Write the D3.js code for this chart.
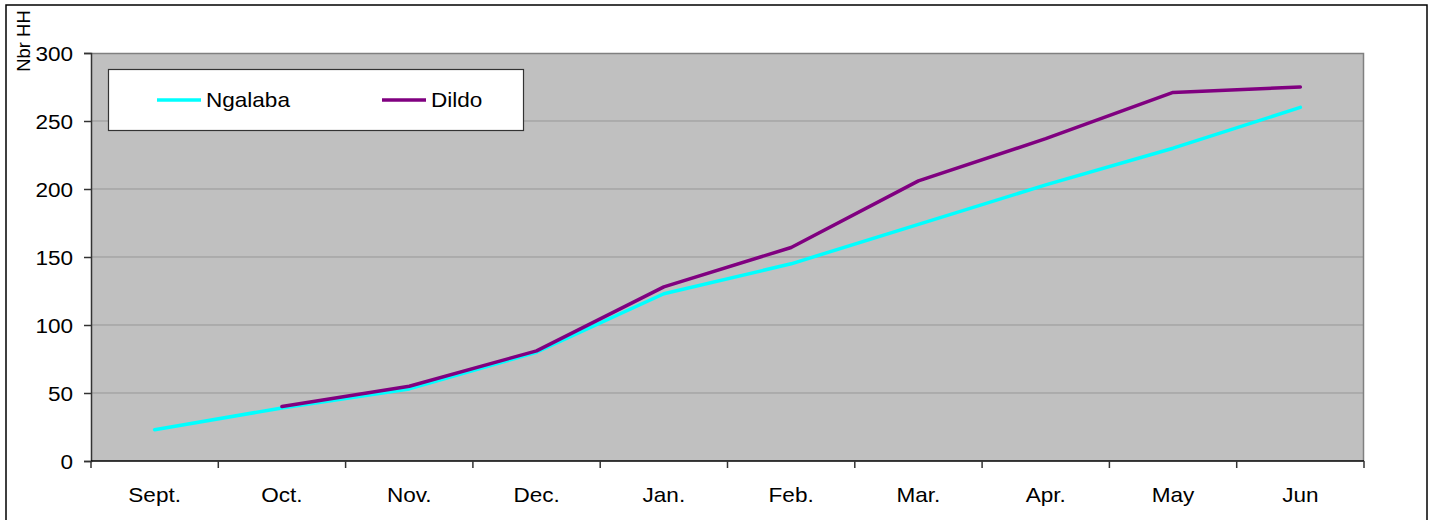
<!DOCTYPE html>
<html>
<head>
<meta charset="utf-8">
<script src="https://cdn.jsdelivr.net/npm/d3@7"></script>
<style>
  html, body { margin: 0; padding: 0; background: #fff; }
  svg { display: block; }
  text { font-family: "Liberation Sans", Arial, sans-serif; fill: #000; }
</style>
</head>
<body>
<svg id="chart" width="1432" height="520"></svg>
<script>
// Monthly number of households per site
const months = ["Sept.", "Oct.", "Nov.", "Dec.", "Jan.", "Feb.", "Mar.", "Apr.", "May", "Jun"];
const ngalaba = [23, 39, 53, 80, 123, 145, 174, 203, 230, 260];
const dildo = [null, 40, 55, 81, 128, 157, 206, 237, 271, 275];
const yTicks = [0, 50, 100, 150, 200, 250, 300];
const seriesNames = ["Ngalaba", "Dildo"];
const seriesColors = ["#00FFFF", "#800080"];

const svg = d3.select("#chart");
const plot = { left: 91, right: 1364, top: 53, bottom: 461 };
const sx = 1.1;       // horizontal text stretch
const fs = "20.5px";  // label font size

// outer frame
svg.append("rect")
  .attr("x", 6).attr("y", 5).attr("width", 1421).attr("height", 530)
  .attr("fill", "#fff").attr("stroke", "#000").attr("stroke-width", 1.5);

const x = d3.scaleBand().domain(months).range([plot.left, plot.right]);
const y = d3.scaleLinear().domain([0, 300]).range([plot.bottom, plot.top]);

// plot background
svg.append("rect")
  .attr("x", plot.left).attr("y", plot.top)
  .attr("width", plot.right - plot.left).attr("height", plot.bottom - plot.top)
  .attr("fill", "#C0C0C0");

// horizontal gridlines
svg.append("g").selectAll("line")
  .data(yTicks.filter(d => d > 0 && d < 300))
  .join("line")
  .attr("x1", plot.left).attr("x2", plot.right)
  .attr("y1", d => y(d)).attr("y2", d => y(d))
  .attr("stroke", "#979797").attr("stroke-width", 1);

// top and right plot border
svg.append("path")
  .attr("d", `M${plot.left},${plot.top + 0.5}H${plot.right - 0.5}V${plot.bottom}`)
  .attr("fill", "none").attr("stroke", "#808080").attr("stroke-width", 1.5);

// y axis
const yAxis = svg.append("g")
  .attr("transform", `translate(${plot.left},0)`)
  .call(d3.axisLeft(y).tickValues(yTicks).tickSize(7).tickPadding(0).tickFormat(d3.format("d")));
yAxis.select(".domain").attr("stroke", "#333").attr("stroke-width", 1.5);
yAxis.selectAll(".tick line").attr("stroke", "#333").attr("stroke-width", 1.5);
yAxis.selectAll(".tick text")
  .attr("x", 0).attr("dy", null).attr("y", 7.5)
  .attr("transform", `translate(-18,0) scale(${sx},1)`)
  .style("font-size", fs)
  .attr("font-family", null);

// x axis: ticks at category boundaries, labels at centres
const xAxisG = svg.append("g").attr("transform", `translate(0,${plot.bottom})`);
xAxisG.append("line")
  .attr("x1", plot.left).attr("x2", plot.right)
  .attr("stroke", "#000").attr("stroke-width", 1.5);
const bounds = months.map(m => x(m)).concat([x(months[months.length - 1]) + x.bandwidth()]);
xAxisG.selectAll("line.tk").data(bounds).join("line")
  .attr("class", "tk")
  .attr("x1", d => d).attr("x2", d => d)
  .attr("y1", 0).attr("y2", 7)
  .attr("stroke", "#333").attr("stroke-width", 1.5);
xAxisG.selectAll("text").data(months).join("text")
  .attr("transform", d => `translate(${x(d) + x.bandwidth() / 2},40.5) scale(${sx},1)`)
  .attr("text-anchor", "middle")
  .style("font-size", fs)
  .text(d => d);

// y axis title
svg.append("text")
  .attr("transform", "translate(29.5,41) rotate(-90)")
  .attr("text-anchor", "middle")
  .style("font-size", "18.5px")
  .text("Nbr HH");

// series lines
const line = d3.line()
  .defined(d => d != null)
  .x((d, i) => x(months[i]) + x.bandwidth() / 2)
  .y(d => y(d));

[ngalaba, dildo].forEach((vals, k) => {
  svg.append("path")
    .datum(vals)
    .attr("fill", "none")
    .attr("stroke", seriesColors[k])
    .attr("stroke-width", 3.5)
    .attr("stroke-linejoin", "round")
    .attr("stroke-linecap", "round")
    .attr("d", line);
});

// legend
const lg = svg.append("g");
lg.append("rect")
  .attr("x", 108.5).attr("y", 69.5).attr("width", 415).attr("height", 61)
  .attr("fill", "#fff").attr("stroke", "#333").attr("stroke-width", 1.2);
const legendX = [157, 382];
seriesNames.forEach((name, k) => {
  lg.append("line")
    .attr("x1", legendX[k]).attr("x2", legendX[k] + 44)
    .attr("y1", 100).attr("y2", 100)
    .attr("stroke", seriesColors[k]).attr("stroke-width", 3.5);
  lg.append("text")
    .attr("transform", `translate(${legendX[k] + 49},106.5) scale(${sx},1)`)
    .style("font-size", fs)
    .text(name);
});
</script>
</body>
</html>
